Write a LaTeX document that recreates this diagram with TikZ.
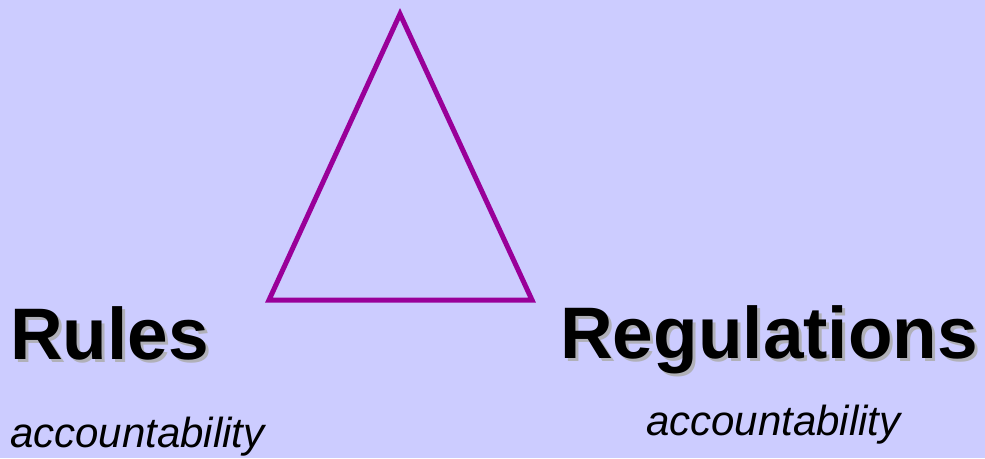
\documentclass[tikz,border=0pt]{standalone}
\usepackage{fontspec}
\setmainfont{Liberation Sans}
\definecolor{bg}{HTML}{CCCCFF}
\definecolor{tri}{HTML}{990099}
\definecolor{shade}{HTML}{B0B0B8}
\newcommand{\shadowtext}[1]{\rlap{\hspace{3pt}\raisebox{-3pt}{\textcolor{shade}{#1}}}#1}
\tikzset{
  title/.style={anchor=base west,inner sep=0pt,font=\fontsize{73}{80}\selectfont\bfseries},
  sub/.style={anchor=base west,inner sep=0pt,font=\fontsize{42}{48}\selectfont\itshape},
}
\begin{document}
\begin{tikzpicture}[x=1pt,y=-1pt]
\fill[bg] (0,0) rectangle (985,458);
\useasboundingbox (0,0) rectangle (985,458);
\coordinate (apex) at (400,14);
\coordinate (bl) at (269,300);
\coordinate (br) at (532,300);
\draw[tri,line width=5pt,line join=miter] (apex) -- (bl) -- (br) -- cycle;
\node[title] (rules) at (10,359) {\shadowtext{Rules}};
\node[title] (reg) at (560,358) {\shadowtext{Regulations}};
\node[sub] (acc1) at (10,447) {accountability};
\node[sub] (acc2) at (646,435) {accountability};
\end{tikzpicture}
\end{document}
